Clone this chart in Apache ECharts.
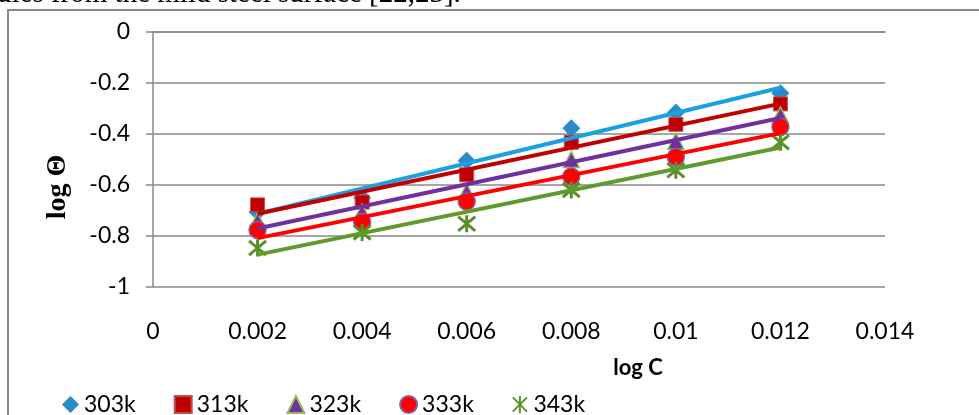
<!DOCTYPE html>
<html>
<head>
<meta charset="utf-8">
<script src="https://cdn.jsdelivr.net/npm/echarts@6/dist/echarts.min.js"></script>
<style>html,body{margin:0;padding:0;background:#fff}#c{width:979px;height:415px}</style>
</head>
<body>
<div id="c"></div>
<script>
// Data
var logC = [0.002, 0.004, 0.006, 0.008, 0.010, 0.012];
var seriesNames = ['303k', '313k', '323k', '333k', '343k'];
var v303 = [-0.706, -0.650, -0.505, -0.377, -0.316, -0.240];
var v313 = [-0.678, -0.667, -0.560, -0.432, -0.362, -0.282];
var v323 = [-0.740, -0.706, -0.625, -0.500, -0.428, -0.325];
var v333 = [-0.776, -0.745, -0.665, -0.567, -0.490, -0.372];
var v343 = [-0.847, -0.786, -0.752, -0.620, -0.542, -0.432];
var xTicks = [0, 0.002, 0.004, 0.006, 0.008, 0.01, 0.012, 0.014];
var yTicks = [0, -0.2, -0.4, -0.6, -0.8, -1];

var allVals = [v303, v313, v323, v333, v343];
var markerColor = ['#2A8AC8', '#C00000', '#7030A0', '#FF0000', '#5B8F29'];
var markerBorder = ['#2A8AC8', '#C0504D', '#9BBB59', '#8064A2', '#5B8F29'];
var markerBorderW = [0, 1, 1.5, 1.5, 3];
var lineColor = ['#1BA1E2', '#C00000', '#7030A0', '#FF0000', '#5E9A2C'];
var symbols = ['diamond', 'rect', 'triangle', 'circle', 'path://M-1,-1L1,1M-1,1L1,-1M0,-1.2L0,1.2'];
var symSize = [18, 14, 16, 17, 17];

// Linear trendline (least squares), as Excel draws it over the data range
function fit(xs, ys) {
  var n = xs.length, mx = 0, my = 0;
  for (var i = 0; i < n; i++) { mx += xs[i]; my += ys[i]; }
  mx /= n; my /= n;
  var sxy = 0, sxx = 0;
  for (var j = 0; j < n; j++) { sxy += (xs[j] - mx) * (ys[j] - my); sxx += (xs[j] - mx) * (xs[j] - mx); }
  var b = sxy / sxx, a = my - b * mx;
  var x0 = xs[0], x1 = xs[n - 1];
  return [[x0, a + b * x0], [x1, a + b * x1]];
}

var series = [];
for (var k = 0; k < 5; k++) {
  series.push({
    name: seriesNames[k], type: 'scatter', z: 2,
    symbol: symbols[k], symbolSize: symSize[k],
    itemStyle: { color: markerColor[k], borderColor: markerBorder[k], borderWidth: markerBorderW[k], opacity: 1 },
    data: logC.map(function (x, i) { return [x, allVals[k][i]]; })
  });
}
for (var m = 0; m < 5; m++) {
  series.push({
    name: seriesNames[m] + ' trend', type: 'line', z: 3, symbol: 'none', silent: true,
    lineStyle: { color: lineColor[m], width: 4 },
    data: fit(logC, allVals[m])
  });
}

var chart = echarts.init(document.getElementById('c'), null, { renderer: 'canvas' });
chart.setOption({
  animation: false,
  backgroundColor: '#fff',
  grid: { left: 153, right: 94, top: 32, bottom: 128, containLabel: false },
  xAxis: {
    type: 'value', min: 0, max: 0.014, interval: 0.002,
    axisLine: { show: true, lineStyle: { color: '#888', width: 1.5 } },
    axisTick: { show: false },
    splitLine: { show: false },
    axisLabel: { margin: 33, fontFamily: 'Lato', fontSize: 23, color: '#000',
      formatter: function (v) { var i = Math.round(v / 0.002); return String(xTicks[i]); } }
  },
  yAxis: {
    type: 'value', min: -1, max: 0, interval: 0.2,
    axisLine: { show: true, lineStyle: { color: '#888', width: 1.5 } },
    axisTick: { show: true, inside: false, length: 7, lineStyle: { color: '#888', width: 1.5 } },
    splitLine: { show: true, lineStyle: { color: '#888', width: 1.5 } },
    axisLabel: { margin: 23, fontFamily: 'Lato', fontSize: 23, color: '#000',
      formatter: function (v) { var i = Math.round(-v / 0.2); return String(yTicks[i]); } }
  },
  legend: {
    data: seriesNames, left: 62, top: 393, padding: 0, itemGap: 38, itemWidth: 17, itemHeight: 17,
    textStyle: { fontFamily: 'Lato', fontSize: 23, color: '#000', padding: [0, 0, 0, 0] },
    selectedMode: false
  },
  graphic: [
    { type: 'rect', shape: { x: 8, y: 10, width: 1000, height: 450 }, style: { fill: 'none', stroke: '#888', lineWidth: 2 }, z: 0 },
    { type: 'text', left: -3, top: -20, style: { text: 'ules from the mild steel surface [22,23].', fontFamily: 'Liberation Serif', fontSize: 29, fill: '#000' } },
    { type: 'text', x: 638, y: 368, style: { text: 'log C', fontFamily: 'Lato', fontWeight: 'bold', fontSize: 22, fill: '#000', align: 'center', verticalAlign: 'middle' } },
    { type: 'text', x: 58, y: 187, rotation: Math.PI / 2, style: { text: 'log Θ', fontFamily: 'Liberation Serif', fontWeight: 'bold', fontSize: 28, fill: '#000', align: 'center', verticalAlign: 'middle' } }
  ],
  series: series
});
</script>
</body>
</html>
